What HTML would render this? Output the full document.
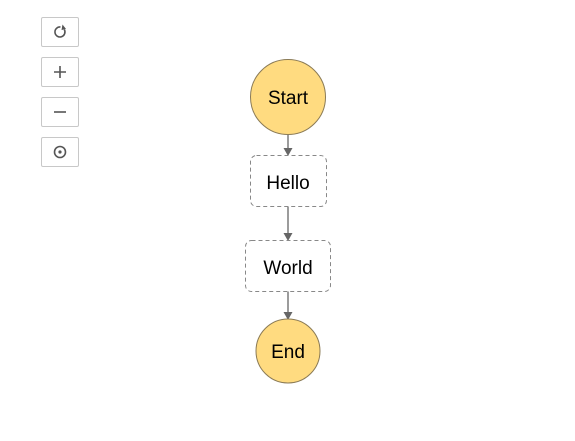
<!DOCTYPE html>
<html><head><style>
body{margin:0;width:575px;height:441px;background:#fff;position:relative;font-family:"Liberation Sans",Arial,sans-serif;overflow:hidden}
.b{position:absolute;left:41px;width:36px;height:28px;border:1px solid #c8c8c8;border-radius:2px;background:#fff}
</style></head><body>
<div class="b" style="top:17px"></div>
<div class="b" style="top:57px"></div>
<div class="b" style="top:97px"></div>
<div class="b" style="top:137px"></div>
<svg width="575" height="441" style="position:absolute;left:0;top:0">
<g stroke="#555" stroke-width="1.6" fill="none">
<path d="M64.3 29.5 A5 5 0 1 1 60.5 27"/>
<path d="M54 72h12M60 66v12"/>
<path d="M54 112h12"/>
<circle cx="60" cy="152" r="5.5"/>
</g>
<polygon points="62.5,24.5 66,29 61.5,30" fill="#555"/>
<circle cx="60" cy="152" r="1.6" fill="#555"/>
<g stroke="#666" stroke-width="1.3">
<line x1="288" y1="135" x2="288" y2="149"/>
<line x1="288" y1="206" x2="288" y2="234"/>
<line x1="288" y1="291" x2="288" y2="313"/>
</g>
<g fill="#666">
<polygon points="283.5,148 292.5,148 288,156"/>
<polygon points="283.5,233 292.5,233 288,241"/>
<polygon points="283.5,312 292.5,312 288,320"/>
</g>
<circle cx="288" cy="97" r="37.5" fill="#ffdb80" stroke="#8a7a55" stroke-width="1"/>
<circle cx="288" cy="351" r="32" fill="#ffdb80" stroke="#8a7a55" stroke-width="1"/>
<rect x="250.5" y="155.5" width="76" height="51" rx="6" fill="#fff" stroke="#888" stroke-dasharray="4,3"/>
<rect x="245.5" y="240.5" width="85" height="51" rx="6" fill="#fff" stroke="#888" stroke-dasharray="4,3"/>
<g font-family="Liberation Sans,Arial,sans-serif" font-size="19" fill="#000" text-anchor="middle">
<text x="288" y="104">Start</text>
<text x="288" y="189">Hello</text>
<text x="288" y="274">World</text>
<text x="288" y="358">End</text>
</g>
</svg>
</body></html>
